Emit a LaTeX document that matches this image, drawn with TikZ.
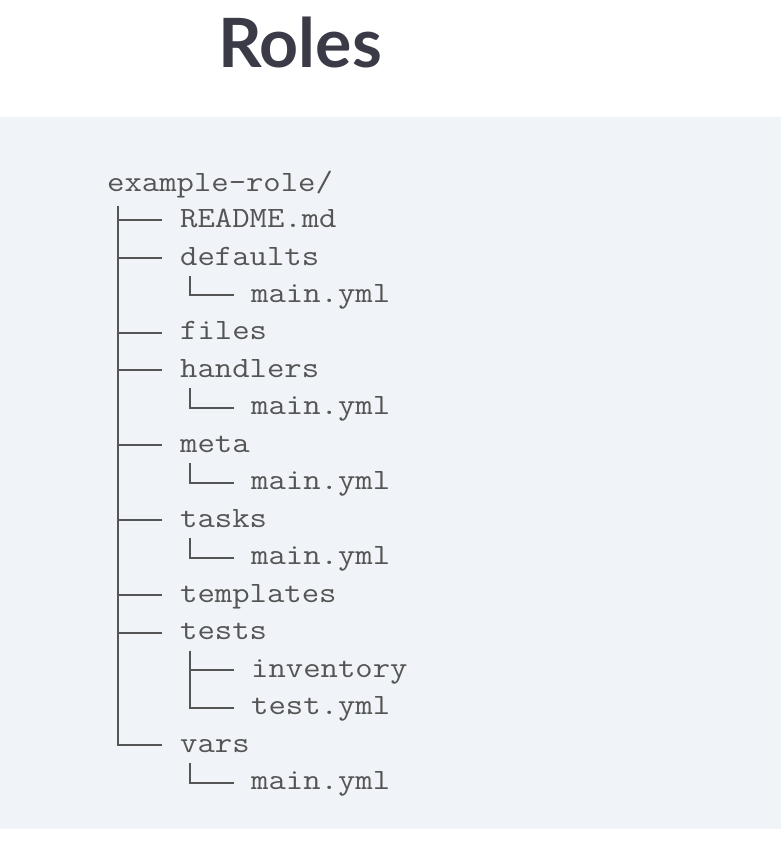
\documentclass[tikz,border=0pt]{standalone}
\usepackage{fontspec}
\newfontfamily\treefont{Latin Modern Mono}[FakeStretch=1.143]
\newfontfamily\titlefont{Lato}
\usetikzlibrary{calc, positioning}
\definecolor{panelgray}{HTML}{F0F3F7}
\definecolor{treegray}{HTML}{555555}
\definecolor{titlegray}{HTML}{3A3B47}
\tikzset{entry/.style={anchor=base west, inner sep=0pt, text=treegray, font=\treefont\fontsize{29.5}{30}\selectfont}}
\tikzset{tree line/.style={draw=treegray, line width=2pt}}

\begin{document}
\begin{tikzpicture}[x=1pt, y=-1pt]
\useasboundingbox (0,0) rectangle (781,842);
\fill[panelgray] (0,117) rectangle (781,829);
\node[anchor=base, inner sep=0pt, text=titlegray, font=\titlefont\bfseries\fontsize{68}{70}\selectfont] (title) at (300,68) {Roles};
% rows are 37.47px apart, baseline 8.5px below row centre
\node[entry] (root) at (107,191.5) {example-role/};
\node[entry] (readme) at (180,227.5) {README.md};
\node[entry] (defaults) at (180,265) {defaults};
\node[entry] (defmain) at (251,302.4) {main.yml};
\node[entry] (files) at (180,339.9) {files};
\node[entry] (handlers) at (180,377.4) {handlers};
\node[entry] (handmain) at (251,414.8) {main.yml};
\node[entry] (meta) at (180,452.3) {meta};
\node[entry] (metamain) at (251,489.8) {main.yml};
\node[entry] (tasks) at (180,527.2) {tasks};
\node[entry] (taskmain) at (251,564.7) {main.yml};
\node[entry] (templates) at (180,602.2) {templates};
\node[entry] (tests) at (180,639.6) {tests};
\node[entry] (inventory) at (251,677.1) {inventory};
\node[entry] (testyml) at (251,714.6) {test.yml};
\node[entry] (vars) at (180,752) {vars};
\node[entry] (varmain) at (251,789.5) {main.yml};
% trunks
\coordinate (rootdown) at ($(root.base west)+(11,15)$);
\draw[tree line] (rootdown) |- ([shift={(-18,-7)}]vars.base west);
\foreach \child in {readme, defaults, files, handlers, meta, tasks, templates, tests}
  \draw[tree line] ([shift={(-18,-7)}]\child.base west) -- ++(-45,0);
\foreach \parent/\child in {defaults/defmain, handlers/handmain, meta/metamain, tasks/taskmain, vars/varmain, tests/testyml}
  \draw[tree line] ([shift={(10,11)}]\parent.base west) |- ([shift={(-17,-7)}]\child.base west);
\draw[tree line] ([shift={(-17,-7)}]inventory.base west) -- ++(-45,0);
\end{tikzpicture}
\end{document}
